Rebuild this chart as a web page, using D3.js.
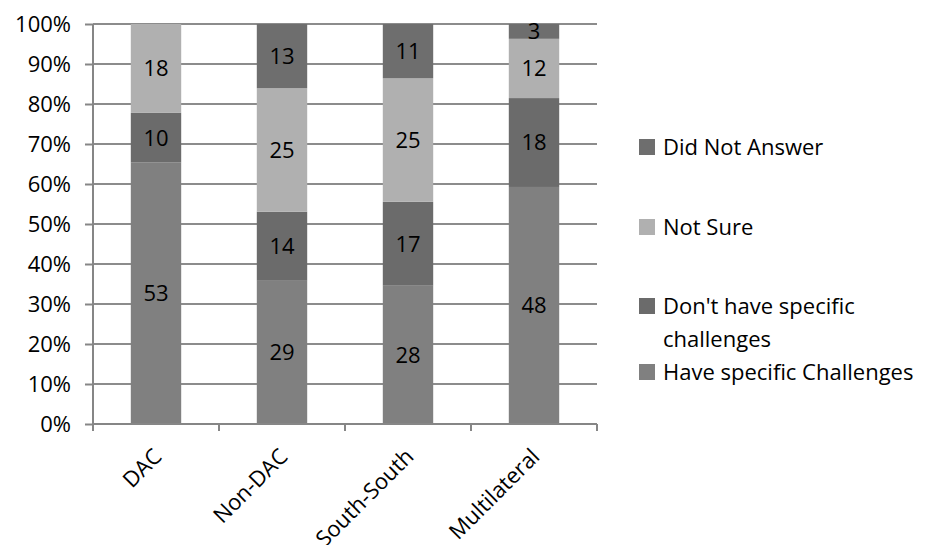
<!DOCTYPE html>
<html>
<head>
<meta charset="utf-8">
<script src="https://cdn.jsdelivr.net/npm/d3@7"></script>
<style>
  html, body { margin: 0; padding: 0; background: #fff; }
  svg text { font-family: "Open Sans", "Liberation Sans", sans-serif; fill: #000; }
</style>
</head>
<body>
<svg id="chart" width="926" height="545"></svg>
<script>
// Survey responses per donor group (counts)
const categories = ["DAC", "Non-DAC", "South-South", "Multilateral"];
const seriesNames = ["Have specific Challenges", "Don't have specific challenges", "Not Sure", "Did Not Answer"];
const haveChallenges = [53, 29, 28, 48];
const dontHave = [10, 14, 17, 18];
const notSure = [18, 25, 25, 12];
const didNotAnswer = [0, 13, 11, 3];
const yTicks = [0, 0.1, 0.2, 0.3, 0.4, 0.5, 0.6, 0.7, 0.8, 0.9, 1.0];
const seriesColors = ["#808080", "#6b6b6b", "#b0b0b0", "#6e6e6e"];

const FONT = 22;

const seriesValues = [haveChallenges, dontHave, notSure, didNotAnswer];
const rows = categories.map((c, i) => {
  const r = { category: c };
  seriesNames.forEach((s, j) => { r[s] = seriesValues[j][i]; });
  return r;
});

const svg = d3.select("#chart");
const margin = { left: 93, top: 24, plotW: 504, plotH: 400 };

const x = d3.scaleBand().domain(categories).range([margin.left, margin.left + margin.plotW]).paddingInner(0.6).paddingOuter(0.3);
const xBand = d3.scaleBand().domain(categories).range([margin.left, margin.left + margin.plotW]);
const y = d3.scaleLinear().domain([0, 1]).range([margin.top + margin.plotH, margin.top]);

const stack = d3.stack().keys(seriesNames).offset(d3.stackOffsetExpand);
const stacked = stack(rows);

// gridlines
svg.append("g").selectAll("line").data(yTicks.filter(t => t > 0)).join("line")
  .attr("x1", margin.left).attr("x2", margin.left + margin.plotW)
  .attr("y1", d => y(d)).attr("y2", d => y(d))
  .attr("stroke", "#8c8c8c").attr("stroke-width", 2);

// y axis
const yAxis = d3.axisLeft(y).tickValues(yTicks).tickFormat(d3.format(".0%")).tickSize(8).tickPadding(14);
const gy = svg.append("g").attr("transform", `translate(${margin.left},0)`).call(yAxis);
gy.select(".domain").attr("stroke", "#868686").attr("stroke-width", 2).attr("d", `M0,${margin.top}V${margin.top + margin.plotH}`);
gy.selectAll(".tick line").attr("stroke", "#868686").attr("stroke-width", 2);
gy.selectAll(".tick text").attr("font-size", FONT).attr("dy", "0.36em").style("font-family", "'Open Sans', sans-serif");

// bars
const layers = svg.append("g").selectAll("g").data(stacked).join("g")
  .attr("fill", (d, i) => seriesColors[i]);
layers.selectAll("rect").data(d => d.map(p => ({ p, key: d.key }))).join("rect")
  .attr("x", d => x(d.p.data.category))
  .attr("width", x.bandwidth())
  .attr("y", d => y(d.p[1]))
  .attr("height", d => y(d.p[0]) - y(d.p[1]));

// value labels
const labels = [];
stacked.forEach(layer => layer.forEach(p => {
  const v = p.data[layer.key];
  if (v > 0) labels.push({ cat: p.data.category, v, mid: (p[0] + p[1]) / 2 });
}));
svg.append("g").selectAll("text").data(labels).join("text")
  .attr("x", d => x(d.cat) + x.bandwidth() / 2)
  .attr("y", d => y(d.mid))
  .attr("dy", "0.36em")
  .attr("text-anchor", "middle")
  .attr("font-size", FONT)
  .text(d => d.v);

// x axis
const xAxisLine = svg.append("g");
const baseY = y(0);
xAxisLine.append("line")
  .attr("x1", margin.left).attr("x2", margin.left + margin.plotW)
  .attr("y1", baseY).attr("y2", baseY)
  .attr("stroke", "#868686").attr("stroke-width", 2);
const boundaries = categories.map(c => xBand(c)).concat([margin.left + margin.plotW]);
xAxisLine.selectAll("line.tk").data(boundaries).join("line").attr("class", "tk")
  .attr("x1", d => d).attr("x2", d => d)
  .attr("y1", baseY).attr("y2", baseY + 7)
  .attr("stroke", "#868686").attr("stroke-width", 2);
svg.append("g").selectAll("text").data(categories).join("text")
  .attr("text-anchor", "end")
  .attr("font-size", FONT)
  .attr("transform", d => `translate(${xBand(d) + xBand.bandwidth() / 2 + 7},${baseY + 34}) rotate(-45)`)
  .text(d => d);

// legend
const legendItems = [
  { name: "Did Not Answer", color: seriesColors[3], lines: ["Did Not Answer"], cy: 147 },
  { name: "Not Sure", color: seriesColors[2], lines: ["Not Sure"], cy: 227 },
  { name: "Don't have specific challenges", color: seriesColors[1], lines: ["Don't have specific", "challenges"], cy: 306 },
  { name: "Have specific Challenges", color: seriesColors[0], lines: ["Have specific Challenges"], cy: 372 }
];
const lg = svg.append("g").selectAll("g").data(legendItems).join("g");
lg.append("rect").attr("x", 639).attr("y", d => d.cy - 8).attr("width", 16).attr("height", 16).attr("fill", d => d.color);
lg.each(function(d) {
  const t = d3.select(this).append("text").attr("x", 663).attr("y", d.cy).attr("font-size", FONT);
  d.lines.forEach((ln, i) => {
    t.append("tspan").attr("x", 663).attr("dy", i === 0 ? "0.36em" : 33).text(ln);
  });
});
</script>
</body>
</html>
